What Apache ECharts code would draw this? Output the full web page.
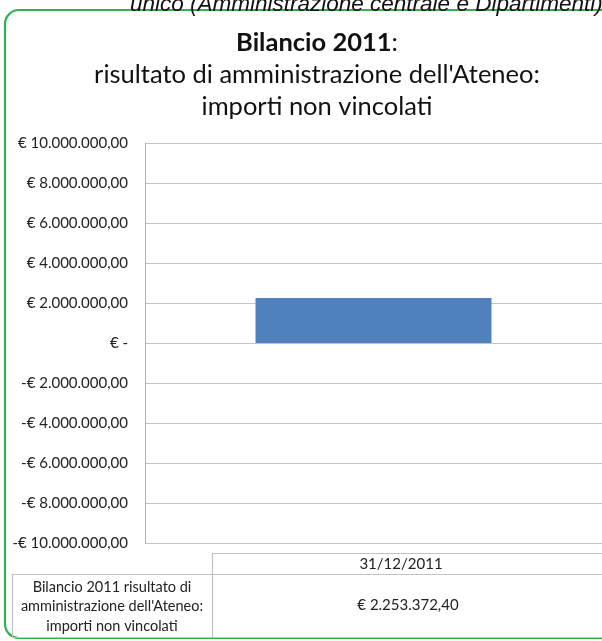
<!DOCTYPE html>
<html>
<head>
<meta charset="utf-8">
<script src="https://cdn.jsdelivr.net/npm/echarts@6/dist/echarts.min.js"></script>
<style>
html,body{margin:0;padding:0;background:#fff;}
#c{width:602px;height:641px;}
</style>
</head>
<body>
<div id="c"></div>
<script>
// ---- data ----
var categories = ['31/12/2011'];
var seriesName = "Bilancio 2011 risultato di amministrazione dell'Ateneo: importi non vincolati";
var seriesNameLines = ['Bilancio 2011 risultato di', "amministrazione dell'Ateneo:", 'importi non vincolati'];
var values = [2253372.40];
var yTickValues = [-10000000, -8000000, -6000000, -4000000, -2000000, 0, 2000000, 4000000, 6000000, 8000000, 10000000];
var yTickLabels = ['-€ 10.000.000,00', '-€ 8.000.000,00', '-€ 6.000.000,00', '-€ 4.000.000,00', '-€ 2.000.000,00', '€ -', '€ 2.000.000,00', '€ 4.000.000,00', '€ 6.000.000,00', '€ 8.000.000,00', '€ 10.000.000,00'];
var titleBold = 'Bilancio 2011';
var titleLines = ["risultato di amministrazione dell'Ateneo:", 'importi non vincolati'];
var topCutText = 'unico (Amministrazione centrale e Dipartimenti)';

function euro(v) {
  var neg = v < 0; v = Math.abs(v);
  var parts = v.toFixed(2).split('.');
  var intp = parts[0].replace(/\B(?=(\d{3})+(?!\d))/g, '.');
  return (neg ? '-' : '') + '€ ' + intp + ',' + parts[1];
}

var FONT = 'Lato';
var gridColor = '#c3c3c3';
var chart = echarts.init(document.getElementById('c'), null, {renderer: 'canvas'});

var tableTop = 553, headBottom = 574, tableBottom = 637, colX = 212, leftX = 12, rightX = 640;

var graphics = [
  {type: 'rect', shape: {x: 5, y: 10, width: 700, height: 628, r: 14}, style: {fill: null, stroke: '#2fb34f', lineWidth: 2.2}, z: 0},
  {type: 'text', left: 130, top: -7, style: {text: topCutText, font: 'italic 22.5px "Liberation Sans", Arial', fill: '#111'}, z: 1},
  {type: 'line', shape: {x1: colX, y1: tableTop + 0.5, x2: rightX, y2: tableTop + 0.5}, style: {stroke: gridColor, lineWidth: 1.2}},
  {type: 'line', shape: {x1: leftX, y1: headBottom + 0.5, x2: rightX, y2: headBottom + 0.5}, style: {stroke: gridColor, lineWidth: 1.2}},
  {type: 'line', shape: {x1: leftX, y1: tableBottom + 0.5, x2: rightX, y2: tableBottom + 0.5}, style: {stroke: gridColor, lineWidth: 1.2}},
  {type: 'line', shape: {x1: leftX + 0.5, y1: headBottom, x2: leftX + 0.5, y2: tableBottom}, style: {stroke: gridColor, lineWidth: 1.2}},
  {type: 'line', shape: {x1: colX + 0.5, y1: tableTop, x2: colX + 0.5, y2: tableBottom}, style: {stroke: gridColor, lineWidth: 1.2}},
  {type: 'text', x: 401, y: (tableTop + headBottom) / 2 + 1, style: {text: categories[0], font: '15px ' + FONT, fill: '#222', textAlign: 'center', textVerticalAlign: 'middle'}},
  {type: 'text', x: 408, y: (headBottom + tableBottom) / 2, style: {text: euro(values[0]), font: '15px ' + FONT, fill: '#222', textAlign: 'center', textVerticalAlign: 'middle'}},
  {type: 'text', x: (leftX + colX) / 2, y: (headBottom + tableBottom) / 2 + 1, style: {text: seriesNameLines.join('\n'), font: '14.5px ' + FONT, lineHeight: 19.5, fill: '#222', textAlign: 'center', textVerticalAlign: 'middle'}}
];

var option = {
  backgroundColor: '#fff',
  animation: false,
  title: {
    left: 312, top: 22, textAlign: 'center',
    text: '{b|' + titleBold + '}{n|:}\n{n|' + titleLines[0] + '}\n{n|' + titleLines[1] + '}',
    textStyle: {
      rich: {
        b: {fontFamily: FONT, fontSize: 25.5, fontWeight: 'bold', color: '#111', lineHeight: 32},
        n: {fontFamily: FONT, fontSize: 25.5, fontWeight: 'normal', color: '#111', lineHeight: 32}
      }
    }
  },
  grid: {left: 145, top: 143, width: 460, height: 400, containLabel: false},
  xAxis: {
    type: 'category', data: categories,
    axisLine: {show: false}, axisTick: {show: false}, axisLabel: {show: false}
  },
  yAxis: {
    type: 'value', min: -10000000, max: 10000000, interval: 2000000,
    axisLine: {show: true, lineStyle: {color: '#b0b0b0', width: 1}},
    axisTick: {show: false},
    splitLine: {lineStyle: {color: gridColor, width: 1.2}},
    axisLabel: {
      margin: 17, fontFamily: FONT, fontSize: 15, color: '#222',
      formatter: function (v) { var i = yTickValues.indexOf(v); return i >= 0 ? yTickLabels[i] : ''; }
    }
  },
  series: [{
    name: seriesName, type: 'bar', data: values, barWidth: 236,
    itemStyle: {color: '#4f81bd'}
  }],
  graphic: graphics
};
chart.setOption(option);
</script>
</body>
</html>
